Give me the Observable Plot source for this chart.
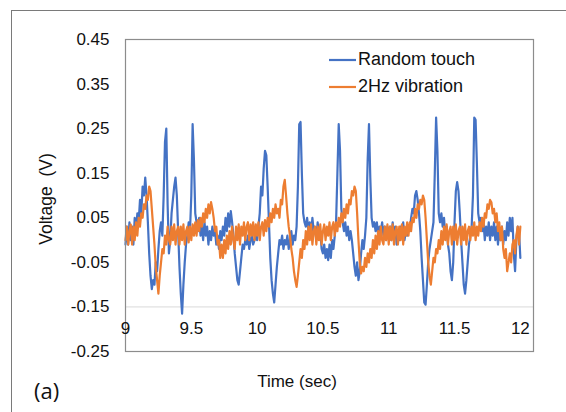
<!DOCTYPE html>
<html><head><meta charset="utf-8">
<script src="https://cdn.jsdelivr.net/npm/d3@7"></script>
<script src="https://cdn.jsdelivr.net/npm/@observablehq/plot@0.6"></script>
<style>
body{margin:0;background:#fff;}
#wrap{position:relative;width:566px;height:412px;overflow:hidden;}
#frame{position:absolute;left:11px;top:10px;width:600px;height:500px;border-left:1.5px solid #7a7a7a;border-top:1.5px solid #7a7a7a;}
#chart{position:absolute;left:0;top:0;}
</style></head><body><div id="wrap"><div id="frame"></div><div id="chart"></div></div>
<script>
const t0 = 9, dt = 0.01;
const seriesNames = ["Random touch", "2Hz vibration"];
const seriesColors = ["#4472C4", "#ED7D31"];
const xTicks = [9, 9.5, 10, 10.5, 11, 11.5, 12];
const yTicks = [-0.25, -0.15, -0.05, 0.05, 0.15, 0.25, 0.35, 0.45];
const xLabel = "Time (sec)";
const yLabel = "Voltage  (V)";
const panelLabel = "(a)";

const randomTouch = [
-0.01,0.03,-0.01,0.04,0.00,0.03,-0.01,0.05,0.02,0.06,
0.04,0.09,0.06,0.12,0.10,0.14,0.10,0.04,-0.03,-0.08,
-0.11,-0.09,-0.10,-0.05,-0.07,-0.02,0.02,0.04,0.01,0.10,
0.22,0.25,0.08,-0.03,0.00,0.06,0.09,0.12,0.14,0.10,
0.02,-0.06,-0.12,-0.165,-0.10,-0.05,-0.01,0.01,0.04,0.02,
0.10,0.26,0.18,0.06,0.04,0.02,0.05,0.01,0.03,0.00,
0.04,0.01,0.03,-0.01,0.02,0.00,0.03,0.01,0.02,-0.01,
0.01,-0.02,0.02,0.00,0.03,0.01,0.05,0.02,0.06,0.03,
0.065,0.04,0.01,-0.03,-0.06,-0.09,-0.10,-0.07,-0.04,-0.01,
-0.02,0.00,-0.01,0.01,-0.02,0.00,0.01,-0.01,0.00,0.01,
0.00,0.03,0.06,0.12,0.10,0.16,0.20,0.19,0.12,0.04,
-0.04,-0.09,-0.12,-0.14,-0.10,-0.06,-0.03,0.00,-0.01,0.01,
-0.02,0.00,-0.01,0.01,-0.02,0.00,0.02,-0.01,0.01,0.00,
0.03,0.12,0.26,0.265,0.15,0.06,0.04,0.03,0.05,0.02,
0.04,0.01,0.05,0.02,0.03,0.00,0.04,0.01,0.02,-0.02,
-0.03,-0.01,-0.04,-0.02,-0.045,-0.01,-0.04,0.00,-0.02,0.01,
0.04,0.15,0.26,0.20,0.07,0.04,0.02,0.04,0.01,0.03,
0.00,0.02,0.00,-0.03,-0.06,-0.08,-0.05,-0.09,-0.07,-0.03,
0.00,-0.02,0.01,0.05,0.18,0.26,0.14,0.05,0.03,0.04,
0.02,0.04,0.01,0.03,0.02,0.04,0.01,0.03,0.00,0.03,
0.01,0.03,0.00,0.04,0.01,0.03,-0.01,0.02,0.00,0.03,
0.01,0.04,0.00,0.02,0.01,0.03,0.02,0.05,0.07,0.06,
0.10,0.11,0.09,0.06,0.02,-0.04,-0.09,-0.14,-0.145,-0.10,
-0.05,-0.02,0.00,0.02,0.04,0.15,0.275,0.20,0.06,0.04,
0.06,0.03,0.05,0.01,0.03,-0.01,-0.03,-0.07,-0.09,-0.05,
0.04,0.11,0.13,0.11,0.06,0.00,-0.05,-0.10,-0.12,-0.09,
-0.05,-0.01,0.01,0.03,0.10,0.275,0.27,0.17,0.06,0.04,
0.05,0.02,0.04,0.00,0.03,0.01,0.04,0.00,0.03,0.01,
0.04,0.00,0.03,-0.01,0.02,0.00,0.03,-0.01,0.02,0.00,
0.04,0.01,0.05,0.02,0.05,-0.03,-0.07,0.00,0.03,0.02,
-0.04
];

const vibration2Hz = [
0.00,0.03,-0.01,0.02,0.035,-0.01,0.03,0.00,0.04,0.01,
0.05,0.03,0.06,0.05,0.08,0.07,0.10,0.09,0.12,0.11,
0.07,0.03,-0.01,-0.06,-0.09,-0.12,-0.08,-0.05,-0.02,-0.03,
0.01,-0.01,0.03,0.00,-0.01,0.03,0.00,0.035,-0.01,0.02,
0.03,-0.01,0.03,0.00,0.035,-0.01,0.02,0.03,-0.005,0.03,
0.00,0.035,0.01,0.04,0.01,0.045,0.02,0.05,0.03,0.06,
0.04,0.07,0.05,0.08,0.06,0.085,0.07,0.05,0.02,0.03,
-0.01,0.00,-0.04,-0.01,-0.04,0.00,-0.03,0.01,-0.02,0.02,
-0.01,0.03,0.00,-0.02,0.03,0.00,0.035,-0.01,0.03,0.01,
0.04,0.00,0.03,0.04,0.00,0.035,0.01,0.04,0.00,0.035,
0.01,0.04,0.00,0.03,0.04,0.01,0.045,0.02,0.05,0.03,
0.06,0.04,0.07,0.05,0.08,0.06,0.07,0.05,0.09,0.08,
0.12,0.135,0.10,0.06,0.03,0.01,-0.02,-0.04,-0.07,-0.09,
-0.105,-0.08,-0.05,-0.02,-0.04,0.00,-0.02,0.02,-0.01,0.03,
0.00,0.035,-0.01,0.02,0.03,-0.01,0.03,0.00,0.035,-0.01,
0.02,0.035,0.00,0.03,0.01,0.04,0.00,0.03,0.04,0.01,
0.04,0.02,0.05,0.03,0.06,0.04,0.07,0.05,0.08,0.06,
0.09,0.08,0.11,0.10,0.12,0.11,0.06,0.00,-0.05,-0.075,
-0.06,-0.07,-0.04,-0.06,-0.03,-0.05,-0.02,-0.04,0.00,-0.03,
0.01,-0.02,0.02,-0.01,0.03,0.00,-0.01,0.03,0.00,0.035,
-0.01,0.03,0.00,0.035,-0.01,0.02,0.03,-0.01,0.03,0.00,
0.035,-0.01,0.03,0.01,0.04,0.01,0.04,0.02,0.05,0.04,
0.07,0.05,0.08,0.07,0.09,0.08,0.10,0.09,0.05,0.00,
-0.05,-0.08,-0.10,-0.07,-0.04,-0.05,-0.02,-0.03,0.00,-0.02,
0.02,-0.01,0.03,0.00,0.035,-0.01,0.02,0.03,-0.01,0.03,
0.00,0.035,-0.01,0.02,0.03,-0.01,0.03,0.00,0.035,-0.01,
0.02,0.03,0.00,0.03,0.01,0.04,0.00,0.03,0.01,0.04,
0.02,0.05,0.03,0.06,0.05,0.08,0.07,0.09,0.085,0.06,
0.07,0.04,0.06,0.02,0.04,0.00,0.03,-0.02,-0.04,-0.02,
-0.07,-0.05,-0.03,-0.05,-0.01,0.00,-0.03,0.01,0.03,-0.01,
0.03
];

const rows = [];
[randomTouch, vibration2Hz].forEach((arr, k) => {
  arr.forEach((v, i) => rows.push({t: t0 + i * dt, v, s: seriesNames[k]}));
});

const font = "'Liberation Sans', Arial, sans-serif";
const plot = Plot.plot({
  width: 566, height: 412,
  marginLeft: 125, marginRight: 33, marginTop: 39, marginBottom: 61,
  x: {domain: [9, 12.1], axis: null},
  y: {domain: [-0.25, 0.45], axis: null},
  color: {domain: seriesNames, range: seriesColors},
  style: {fontFamily: font, background: "transparent", color: "#111", overflow: "visible"},
  marks: [
    Plot.ruleY([-0.15], {stroke: "#d9d9d9", strokeWidth: 1}),
    Plot.line(rows, {x: "t", y: "v", z: "s", stroke: "s", strokeWidth: 2.2, strokeLinejoin: "round"}),
    Plot.frame({stroke: "#8c8c8c", strokeWidth: 1.2}),
    Plot.axisY(yTicks, {tickSize: 0, tickPadding: 16, fontSize: 17, tickFormat: d => d.toFixed(2), label: null, fill: "#111"}),
    Plot.text(xTicks, {x: d => d, y: -0.15, dy: 22, text: d => String(d), fontSize: 17, fill: "#111"})
  ]
});
document.getElementById("chart").appendChild(plot);

const svg = d3.select(plot);
const legendY = [60, 87];
seriesNames.forEach((name, i) => {
  svg.append("line").attr("x1", 329).attr("x2", 356).attr("y1", legendY[i]).attr("y2", legendY[i])
    .attr("stroke", seriesColors[i]).attr("stroke-width", 2.2);
  svg.append("text").attr("x", 358).attr("y", legendY[i]).attr("dominant-baseline", "middle")
    .attr("text-anchor", "start")
    .attr("font-size", 18).attr("font-family", font).attr("fill", "#111").text(name);
});
svg.append("text").attr("x", 297).attr("y", 383).attr("text-anchor", "middle").attr("dominant-baseline", "middle")
  .attr("font-size", 17).attr("font-family", font).attr("fill", "#111").text(xLabel);
svg.append("text").attr("transform", "translate(47,199) rotate(-90)").attr("text-anchor", "middle")
  .attr("dominant-baseline", "middle").attr("font-size", 17.5).attr("font-family", font).attr("fill", "#111")
  .style("white-space", "pre").text(yLabel);
svg.append("text").attr("x", 34).attr("y", 393).attr("dominant-baseline", "middle").attr("text-anchor", "start")
  .attr("font-size", 22).attr("font-family", "'Open Sans', 'Noto Sans', sans-serif").attr("fill", "#111").text(panelLabel);
</script>
</body></html>
